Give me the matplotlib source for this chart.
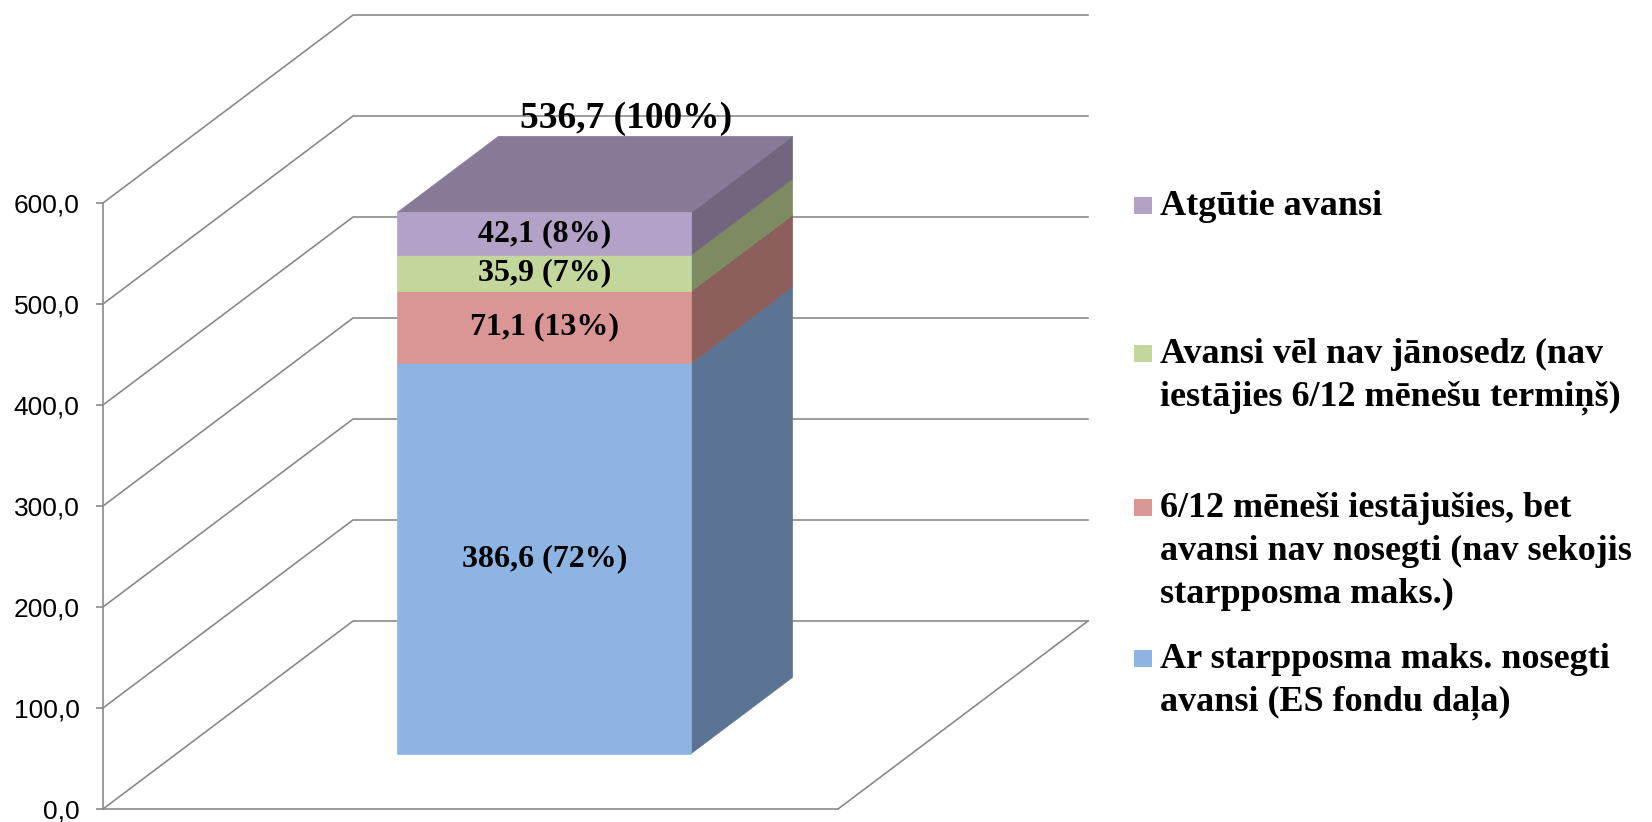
import matplotlib
matplotlib.use("Agg")
import matplotlib.pyplot as plt
from matplotlib.patches import Polygon, Rectangle
from matplotlib.ticker import FuncFormatter

# chart data (bottom -> top of the stack)
series = [
    "Ar starpposma maks. nosegti\navansi (ES fondu daļa)",
    "6/12 mēneši iestājušies, bet\navansi nav nosegti (nav sekojis\nstarpposma maks.)",
    "Avansi vēl nav jānosedz (nav\niestājies 6/12 mēnešu termiņš)",
    "Atgūtie avansi",
]
values = [386.6, 71.1, 35.9, 42.1]
shares = [72, 13, 7, 8]
total = 536.7
total_share = 100
yticks = [0, 100, 200, 300, 400, 500, 600]

front_colors = ["#8DB4E2", "#D99694", "#C3D69B", "#B3A2C7"]
side_colors = ["#5B7494", "#8C5E5C", "#7E8B62", "#72667F"]
top_color = "#867A97"
grid_color = "#868686"

W, H = 1652, 822
fig = plt.figure(figsize=(W / 100, H / 100), dpi=100)
# front plane of the plot: category 0..1 -> px 103..838, value 0..600 -> px 809..203
ax = fig.add_axes([103 / W, (H - 809) / H, 735 / W, 606 / H])
ax.set_xlim(0, 1)
ax.set_ylim(0, 600)

# oblique depth offset (category units, value units)
DX = 250 / 735
DY = 188 / 1.01
z0, z1 = 0.295, 0.7   # bar depth range
x0, x1 = 0.3, 0.7     # bar width range

# walls: gridlines
for v in yticks:
    ax.plot([0, DX, 1 + DX], [v, v + DY, v + DY], color=grid_color, lw=1.15,
            clip_on=False, zorder=1)
ax.plot([1, 1 + DX], [0, DY], color=grid_color, lw=1.15, clip_on=False, zorder=1)


def shift(x, y, z):
    return (x + z * DX, y + z * DY)


bottom = 0
for i, v in enumerate(values):
    top = bottom + v
    front = [shift(x0, bottom, z0), shift(x1, bottom, z0),
             shift(x1, top, z0), shift(x0, top, z0)]
    side = [shift(x1, bottom, z0), shift(x1, bottom, z1),
            shift(x1, top, z1), shift(x1, top, z0)]
    ax.add_patch(Polygon(side, closed=True, facecolor=side_colors[i],
                         edgecolor=side_colors[i], lw=0.5, clip_on=False, zorder=3))
    ax.add_patch(Polygon(front, closed=True, facecolor=front_colors[i],
                         edgecolor=front_colors[i], lw=0.5, clip_on=False, zorder=4))
    cx, cy = shift((x0 + x1) / 2, bottom + v / 2, z0)
    ax.text(cx, cy, f"{v:.1f}".replace(".", ",") + f" ({shares[i]}%)",
            ha="center", va="center", fontsize=23, fontweight="bold",
            family="Liberation Serif", zorder=6, clip_on=False)
    bottom = top

lid = [shift(x0, bottom, z0), shift(x1, bottom, z0),
       shift(x1, bottom, z1), shift(x0, bottom, z1)]
ax.add_patch(Polygon(lid, closed=True, facecolor=top_color, edgecolor=top_color,
                     lw=0.5, clip_on=False, zorder=3))

tx, ty = shift((x0 + x1) / 2, total, z1)
ax.text(tx - 0.027, ty + 7, f"{total:.1f}".replace(".", ",") + f" ({total_share}%)",
        ha="center", va="baseline", fontsize=27, fontweight="bold",
        family="Liberation Serif", zorder=6, clip_on=False)

# axes styling
for s in ["top", "right"]:
    ax.spines[s].set_visible(False)
for s in ["left", "bottom"]:
    ax.spines[s].set_color(grid_color)
    ax.spines[s].set_linewidth(1.15)
    ax.spines[s].set_zorder(2)
ax.set_yticks(yticks)
ax.yaxis.set_major_formatter(FuncFormatter(lambda v, p: f"{v:.1f}".replace(".", ",")))
ax.tick_params(axis="y", length=5, width=1.15, color=grid_color, pad=12,
               labelsize=19, labelcolor="black")
for lab in ax.get_yticklabels():
    lab.set_family("Liberation Sans")
ax.set_xticks([])
ax.patch.set_visible(False)

# legend (top entry = top of stack)
leg_baselines = [668, 517, 363, 215]
line_step = 43
for i, label in enumerate(series):
    b = leg_baselines[i]
    fig.add_artist(Rectangle((1134 / W, 1 - (b - 1) / H), 18 / W, 17 / H,
                             transform=fig.transFigure, facecolor=front_colors[i],
                             edgecolor="none"))
    for k, line in enumerate(label.split("\n")):
        fig.text(1160 / W, 1 - (b + k * line_step) / H, line, ha="left",
                 va="baseline", fontsize=26, fontweight="bold",
                 family="Liberation Serif")

fig.savefig("out.png", dpi=100)
